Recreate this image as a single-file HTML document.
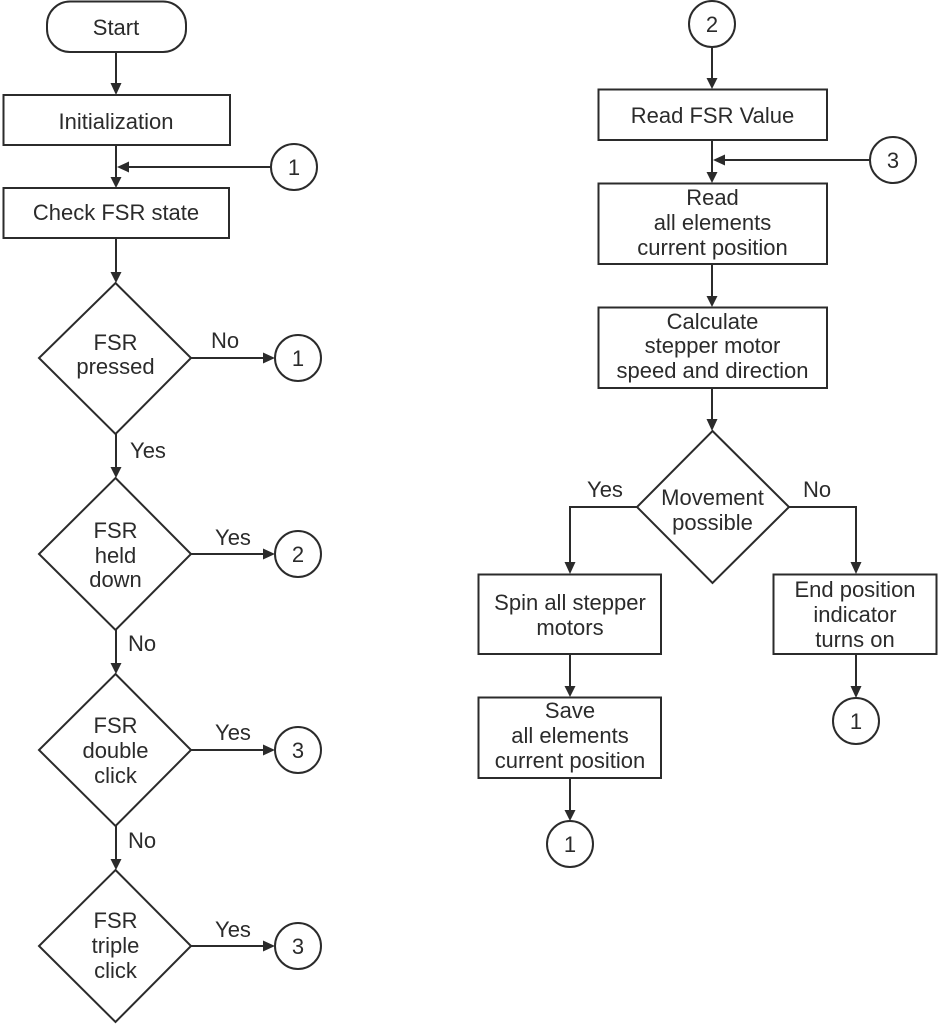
<!DOCTYPE html>
<html>
<head>
<meta charset="utf-8">
<style>
html,body{margin:0;padding:0;background:#fff;}
svg{display:block;}
text{font-family:"Liberation Sans",Arial,sans-serif;font-size:22px;fill:#2b2b2b;text-anchor:middle;}
.s{fill:none;stroke:#2b2b2b;stroke-width:2;}
.a{fill:#2b2b2b;stroke:none;}
</style>
</head>
<body>
<svg width="938" height="1024" viewBox="0 0 938 1024" xmlns="http://www.w3.org/2000/svg">
<!-- LEFT COLUMN -->
<rect class="s" x="47" y="1.5" width="139" height="50.5" rx="23" ry="23"/>
<text x="116" y="35">Start</text>
<line class="s" x1="116" y1="52" x2="116" y2="84"/>
<polygon class="a" points="110.5,83 121.5,83 116,95"/>

<rect class="s" x="3.5" y="95" width="226.5" height="50"/>
<text x="116" y="129">Initialization</text>
<line class="s" x1="116" y1="145" x2="116" y2="178"/>
<polygon class="a" points="110.5,177 121.5,177 116,188"/>
<line class="s" x1="128" y1="167" x2="271" y2="167"/>
<polygon class="a" points="117,167 129,161.5 129,172.5"/>
<circle class="s" cx="294" cy="167" r="23"/>
<text x="294" y="175">1</text>

<rect class="s" x="3.5" y="188" width="225.5" height="50"/>
<text x="116" y="220">Check FSR state</text>
<line class="s" x1="116" y1="238" x2="116" y2="273"/>
<polygon class="a" points="110.5,272 121.5,272 116,283"/>

<!-- D1 -->
<polygon class="s" points="115.5,283 191,358 115.5,434 39,358"/>
<text x="115.5" y="350">FSR</text>
<text x="115.5" y="374">pressed</text>
<line class="s" x1="191" y1="358" x2="264" y2="358"/>
<polygon class="a" points="263,352.5 263,363.5 275,358"/>
<circle class="s" cx="298" cy="358" r="23"/>
<text x="298" y="366">1</text>
<text x="225" y="348">No</text>
<line class="s" x1="116" y1="434" x2="116" y2="468"/>
<polygon class="a" points="110.5,467 121.5,467 116,478"/>
<text x="148" y="458">Yes</text>

<!-- D2 -->
<polygon class="s" points="115.5,478 191,554 115.5,630 39,554"/>
<text x="115.5" y="538">FSR</text>
<text x="115.5" y="563">held</text>
<text x="115.5" y="587">down</text>
<line class="s" x1="191" y1="554" x2="264" y2="554"/>
<polygon class="a" points="263,548.5 263,559.5 275,554"/>
<circle class="s" cx="298" cy="554" r="23"/>
<text x="298" y="562">2</text>
<text x="233" y="545">Yes</text>
<line class="s" x1="116" y1="630" x2="116" y2="664"/>
<polygon class="a" points="110.5,663 121.5,663 116,674"/>
<text x="142" y="651">No</text>

<!-- D3 -->
<polygon class="s" points="115.5,674 191,750 115.5,826 39,750"/>
<text x="115.5" y="733">FSR</text>
<text x="115.5" y="758">double</text>
<text x="115.5" y="783">click</text>
<line class="s" x1="191" y1="750" x2="264" y2="750"/>
<polygon class="a" points="263,744.5 263,755.5 275,750"/>
<circle class="s" cx="298" cy="750" r="23"/>
<text x="298" y="758">3</text>
<text x="233" y="740">Yes</text>
<line class="s" x1="116" y1="826" x2="116" y2="860"/>
<polygon class="a" points="110.5,859 121.5,859 116,870"/>
<text x="142" y="848">No</text>

<!-- D4 -->
<polygon class="s" points="115.5,870 191,946 115.5,1022 39,946"/>
<text x="115.5" y="928">FSR</text>
<text x="115.5" y="953">triple</text>
<text x="115.5" y="978">click</text>
<line class="s" x1="191" y1="946" x2="264" y2="946"/>
<polygon class="a" points="263,940.5 263,951.5 275,946"/>
<circle class="s" cx="298" cy="946" r="23"/>
<text x="298" y="954">3</text>
<text x="233" y="937">Yes</text>

<!-- RIGHT COLUMN -->
<circle class="s" cx="712" cy="24" r="23"/>
<text x="712" y="32">2</text>
<line class="s" x1="712" y1="47" x2="712" y2="79"/>
<polygon class="a" points="706.5,78 717.5,78 712,89"/>

<rect class="s" x="598.5" y="89.5" width="228.5" height="50.5"/>
<text x="712.5" y="123">Read FSR Value</text>
<line class="s" x1="712" y1="140" x2="712" y2="173"/>
<polygon class="a" points="706.5,172 717.5,172 712,183"/>
<line class="s" x1="724" y1="160" x2="870" y2="160"/>
<polygon class="a" points="713,160 725,154.5 725,165.5"/>
<circle class="s" cx="893" cy="160" r="23"/>
<text x="893" y="168">3</text>

<rect class="s" x="598.5" y="183.5" width="228.5" height="80.5"/>
<text x="712.5" y="205">Read</text>
<text x="712.5" y="230">all elements</text>
<text x="712.5" y="255">current position</text>
<line class="s" x1="712" y1="264" x2="712" y2="297"/>
<polygon class="a" points="706.5,296 717.5,296 712,307"/>

<rect class="s" x="598.5" y="307.5" width="228.5" height="80.5"/>
<text x="712.5" y="329">Calculate</text>
<text x="712.5" y="353">stepper motor</text>
<text x="712.5" y="378">speed and direction</text>
<line class="s" x1="712" y1="388" x2="712" y2="420"/>
<polygon class="a" points="706.5,419 717.5,419 712,431"/>

<!-- Diamond movement -->
<polygon class="s" points="712.5,431 789,507 712.5,583 637,507"/>
<text x="712.5" y="505">Movement</text>
<text x="712.5" y="530">possible</text>
<text x="605" y="497">Yes</text>
<text x="817" y="497">No</text>
<polyline class="s" points="637,507 570,507 570,563"/>
<polygon class="a" points="564.5,562 575.5,562 570,574"/>
<polyline class="s" points="789,507 856,507 856,563"/>
<polygon class="a" points="850.5,562 861.5,562 856,574"/>

<rect class="s" x="478.5" y="574.5" width="182.5" height="79.5"/>
<text x="570" y="610">Spin all stepper</text>
<text x="570" y="635">motors</text>
<line class="s" x1="570" y1="654" x2="570" y2="687"/>
<polygon class="a" points="564.5,686 575.5,686 570,697"/>

<rect class="s" x="478.5" y="697.5" width="182.5" height="80.5"/>
<text x="570" y="718">Save</text>
<text x="570" y="743">all elements</text>
<text x="570" y="768">current position</text>
<line class="s" x1="570" y1="778" x2="570" y2="811"/>
<polygon class="a" points="564.5,810 575.5,810 570,821"/>
<circle class="s" cx="570" cy="844" r="23"/>
<text x="570" y="852">1</text>

<rect class="s" x="773.5" y="574.5" width="163" height="79.5"/>
<text x="855" y="597">End position</text>
<text x="855" y="622">indicator</text>
<text x="855" y="647">turns on</text>
<line class="s" x1="856" y1="654" x2="856" y2="687"/>
<polygon class="a" points="850.5,686 861.5,686 856,698"/>
<circle class="s" cx="856" cy="721" r="23"/>
<text x="856" y="729">1</text>
</svg>
</body>
</html>
